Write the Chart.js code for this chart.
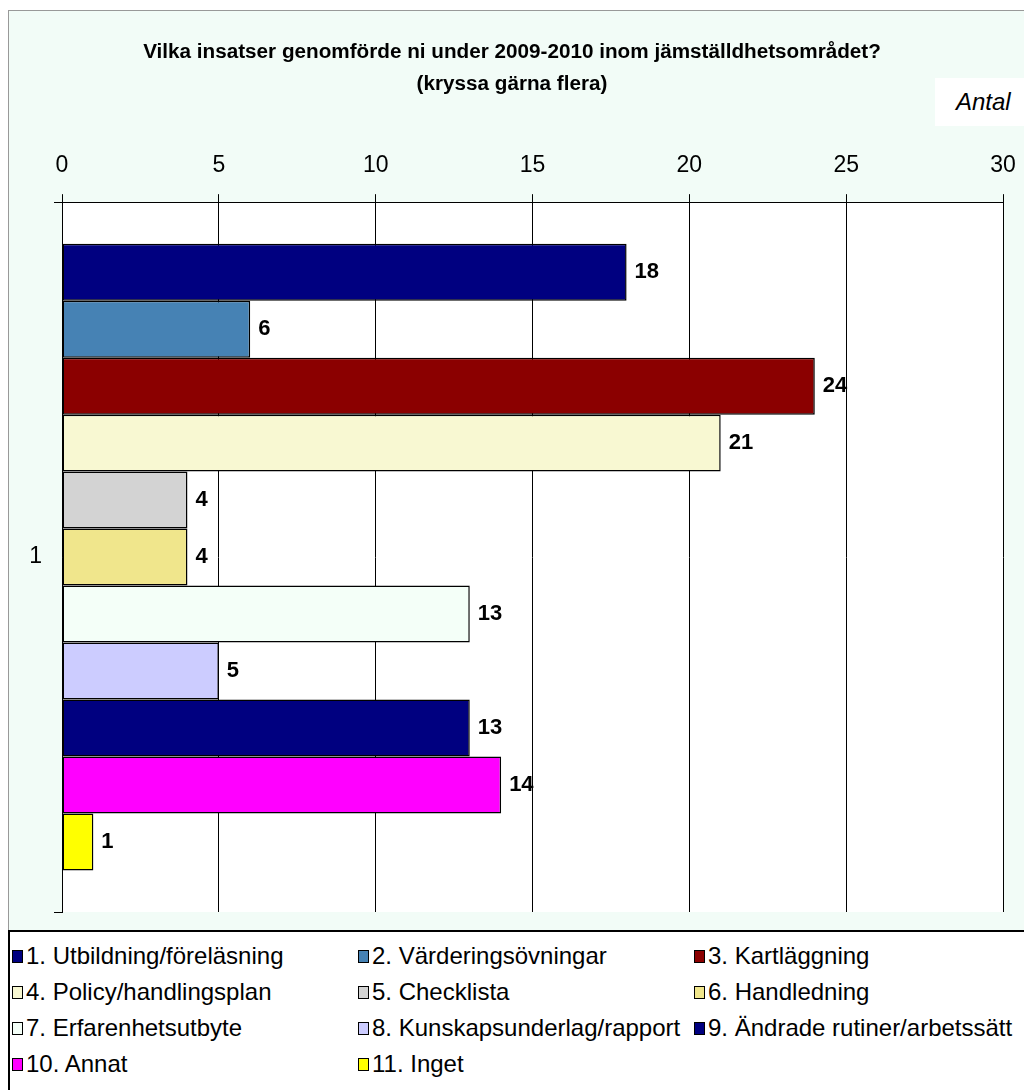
<!DOCTYPE html>
<html>
<head>
<meta charset="utf-8">
<script src="https://cdn.jsdelivr.net/npm/chart.js@4"></script>
<style>
  html, body { margin: 0; background: #fff; overflow: hidden; font-family: "Liberation Sans", Arial, sans-serif; }
  #frame { position: absolute; left: 8px; top: 10px; width: 1030px; height: 1090px;
    background: #F2FCF7; border-left: 1px solid #999; border-top: 1px solid #999; }
  #wrap { position: absolute; left: 0; top: 0; width: 1024px; height: 930px; }
  #antal { position: absolute; left: 935px; top: 78px; width: 89px; height: 48px; background: #fff;
    font-style: italic; font-size: 24px; line-height: 48px; text-indent: 21px; }
  #legend { position: absolute; left: 8px; top: 930px; width: 1030px; height: 170px; background: #fff;
    border: 2px solid #000; box-sizing: border-box; padding: 6px 0 0 2px; }
  .row { display: flex; height: 36px; align-items: center; }
  .item { display: flex; align-items: center; font-size: 24px; white-space: nowrap; }
  .item:nth-child(1) { width: 346px; }
  .item:nth-child(2) { width: 336px; }
  .box { width: 9px; height: 11px; border: 1px solid #000; margin-right: 3px; }
</style>
</head>
<body>
<div id="frame"></div>
<div id="wrap"><canvas id="chart"></canvas></div>
<div id="antal">Antal</div>
<div id="legend"></div>
<script>
const categories = ["1"];
const seriesNames = [
  "1. Utbildning/föreläsning", "2. Värderingsövningar", "3. Kartläggning",
  "4. Policy/handlingsplan", "5. Checklista", "6. Handledning",
  "7. Erfarenhetsutbyte", "8. Kunskapsunderlag/rapport", "9. Ändrade rutiner/arbetssätt",
  "10. Annat", "11. Inget"
];
const seriesValues = [18, 6, 24, 21, 4, 4, 13, 5, 13, 14, 1];
const seriesColors = [
  "#000080", "#4682B4", "#8B0000", "#F8F8D2", "#D3D3D3", "#F0E68C",
  "#F4FFF8", "#CCCCFF", "#000080", "#FF00FF", "#FFFF00"
];
const xTicks = [0, 5, 10, 15, 20, 25, 30];

const FONT = "'Liberation Sans', Arial, sans-serif";

const datasets = seriesNames.map((name, i) => ({
  label: name,
  data: [seriesValues[i]],
  backgroundColor: seriesColors[i],
  borderColor: "#000",
  borderWidth: 1.5,
  borderSkipped: false
}));

const plotBg = {
  id: "plotBg",
  beforeDraw(chart) {
    const { ctx, chartArea: a } = chart;
    ctx.save();
    ctx.fillStyle = "#fff";
    ctx.fillRect(a.left, a.top, a.right - a.left, a.bottom - a.top);
    ctx.restore();
  }
};

const valueLabels = {
  id: "valueLabels",
  afterDatasetsDraw(chart) {
    const ctx = chart.ctx;
    ctx.save();
    ctx.font = "bold 22px " + FONT;
    ctx.fillStyle = "#000";
    ctx.textBaseline = "middle";
    ctx.textAlign = "left";
    chart.data.datasets.forEach((ds, i) => {
      chart.getDatasetMeta(i).data.forEach((bar, j) => {
        ctx.fillText(ds.data[j], bar.x + 8, bar.y);
      });
    });
    ctx.restore();
  }
};

// fixed margins round the plot (title stays centred on the whole canvas)
function setPad(scale, right, bottom) {
  scale.paddingLeft = 0;
  scale.paddingTop = 0;
  scale.paddingRight = right;
  scale.paddingBottom = bottom;
}

const chart = new Chart(document.getElementById("chart"), {
  type: "bar",
  plugins: [plotBg, valueLabels],
  data: { labels: categories, datasets: datasets },
  options: {
    indexAxis: "y",
    responsive: true,
    maintainAspectRatio: false,
    animation: false,
    categoryPercentage: 0.883,
    barPercentage: 1,
    layout: { padding: 0 },
    plugins: {
      legend: { display: false },
      tooltip: { enabled: false },
      title: {
        display: true,
        text: ["Vilka insatser genomförde ni under 2009-2010 inom jämställdhetsområdet?", "(kryssa gärna flera)"],
        color: "#000",
        font: { family: FONT, size: 20.7, weight: "bold", lineHeight: 1.55 },
        padding: { top: 36, bottom: 0 }
      }
    },
    scales: {
      x: {
        position: "top",
        min: 0,
        max: 30,
        afterBuildTicks(scale) { scale.ticks = xTicks.map(v => ({ value: v })); },
        afterFit(scale) { scale.height = 102; setPad(scale, 21, 0); },
        ticks: { color: "#000", font: { family: FONT, size: 23 }, padding: 15, maxRotation: 0 },
        grid: { color: "#000", lineWidth: 1, drawTicks: true, tickLength: 8 },
        border: { display: true, color: "#000", width: 1 }
      },
      y: {
        afterFit(scale) { scale.width = 62; setPad(scale, 0, 18); },
        ticks: { color: "#000", font: { family: FONT, size: 23 }, padding: 12 },
        grid: { drawOnChartArea: false, drawTicks: true, tickLength: 8, color: "#000", lineWidth: 1 },
        border: { display: true, color: "#000", width: 1 }
      }
    }
  }
});

// legend in three columns, like the original
const legend = document.getElementById("legend");
for (let r = 0; r < seriesNames.length; r += 3) {
  const row = document.createElement("div");
  row.className = "row";
  for (let i = r; i < Math.min(r + 3, seriesNames.length); i++) {
    const item = document.createElement("div");
    item.className = "item";
    item.innerHTML = `<span class="box" style="background:${seriesColors[i]}"></span>${seriesNames[i]}`;
    row.appendChild(item);
  }
  legend.appendChild(row);
}
</script>
</body>
</html>
